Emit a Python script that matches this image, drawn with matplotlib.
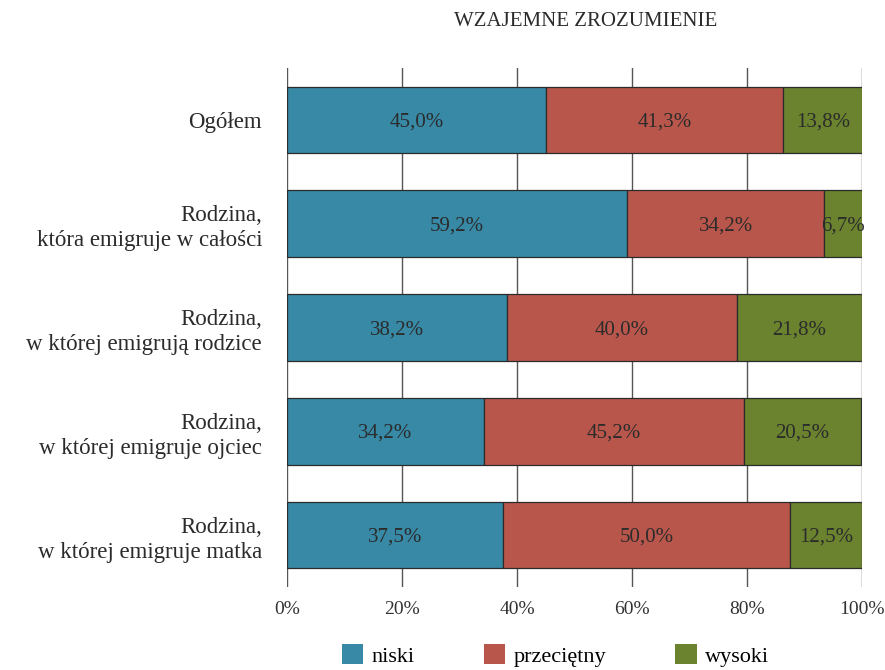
import numpy as np
import matplotlib.pyplot as plt
from matplotlib.patches import Patch

plt.rcParams['font.family'] = ['Liberation Serif', 'DejaVu Serif']

categories = ['Ogółem',
              'Rodzina,\nktóra emigruje w całości',
              'Rodzina,\nw której emigrują rodzice',
              'Rodzina,\nw której emigruje ojciec',
              'Rodzina,\nw której emigruje matka']
niski = [45.0, 59.2, 38.2, 34.2, 37.5]
przecietny = [41.3, 34.2, 40.0, 45.2, 50.0]
wysoki = [13.8, 6.7, 21.8, 20.5, 12.5]
series = [('niski', niski, '#3789a6'),
          ('przeciętny', przecietny, '#b9564b'),
          ('wysoki', wysoki, '#6b822f')]
ticks = [0, 20, 40, 60, 80, 100]

fig = plt.figure(figsize=(8.85, 6.70), dpi=100)
ax = fig.add_axes([0.3243, 0.1239, 0.6497, 0.7746])

y = np.arange(len(categories))
left = np.zeros(len(categories))
for name, vals, col in series:
    vals = np.array(vals)
    ax.barh(y, vals, left=left, height=0.64, color=col, edgecolor='#2b2b2b',
            linewidth=0.9, zorder=3)
    for yi, l, v in zip(y, left, vals):
        ax.text(l + v / 2, yi + 0.02, f'{v:.1f}%'.replace('.', ','), ha='center',
                va='center', fontsize=15, color='#2b2b2b', zorder=4)
    left += vals

ax.set_xlim(0, 100)
ax.set_ylim(4.5, -0.5)
ax.set_xticks(ticks)
ax.set_xticklabels([f'{t}%' for t in ticks], fontsize=14, color='#333333')
ax.set_yticks(y)
ax.set_yticklabels(categories, fontsize=16.5, color='#2b2b2b', linespacing=1.25)
ax.tick_params(axis='both', length=0)
ax.tick_params(axis='x', pad=10)
ax.tick_params(axis='y', pad=18)
ax.grid(axis='x', color='#555555', linewidth=1.0, zorder=0)
for s in ax.spines.values():
    s.set_visible(False)

fig.text(0.662, 0.968, 'WZAJEMNE ZROZUMIENIE', ha='center', va='center',
         fontsize=15, color='#2b2b2b')

handles = [Patch(facecolor=c, label=n) for n, _, c in series]
fig.legend(handles=handles, loc='center', bbox_to_anchor=(0.628, 0.022), ncol=3,
           frameon=False, fontsize=16, handlelength=0.95, handleheight=1.0,
           columnspacing=3.1, handletextpad=0.4)

fig.savefig('out.png', dpi=100)
